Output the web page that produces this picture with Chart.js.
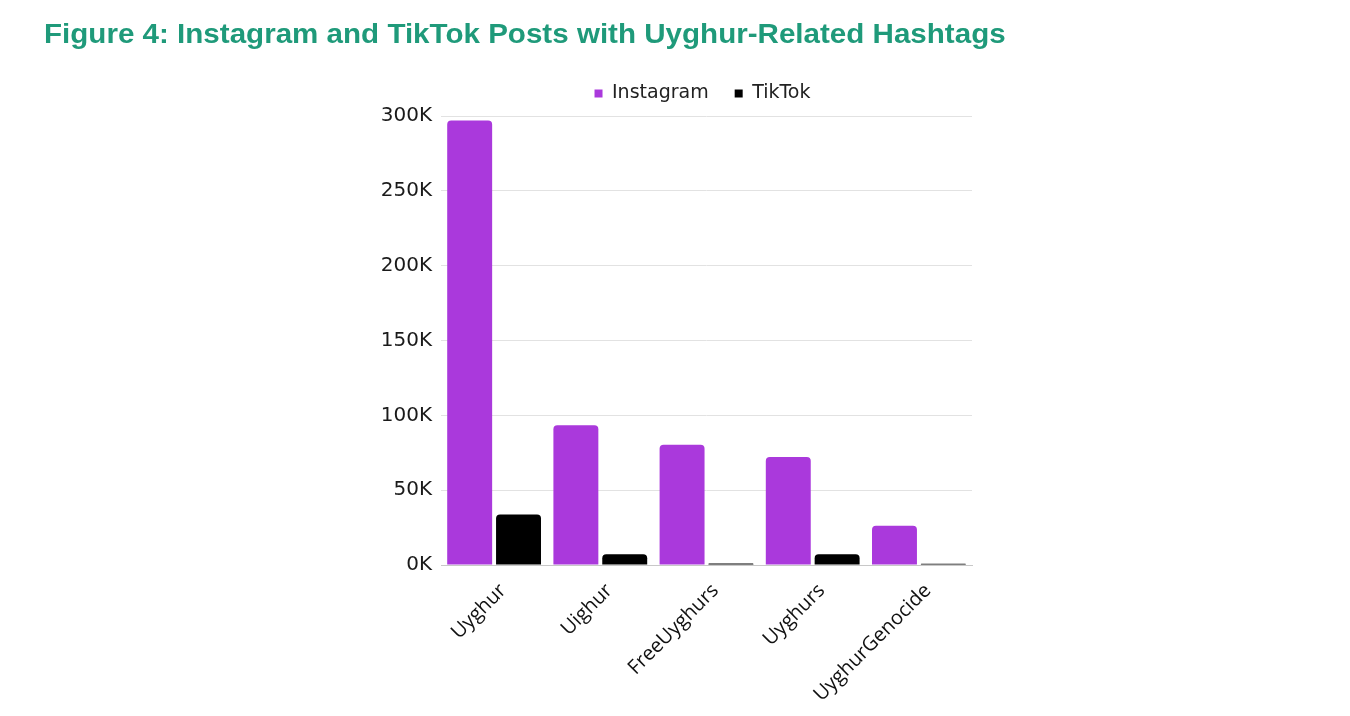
<!DOCTYPE html>
<html>
<head>
<meta charset="utf-8">
<script src="https://cdn.jsdelivr.net/npm/chart.js@4.4.0/dist/chart.umd.min.js"></script>
<style>
  body { margin: 0; background: #fff; }
  #wrap { position: relative; width: 1350px; height: 716px; }
  #title {
    position: absolute; left: 44px; top: 18px;
    font: bold 28px "Liberation Sans", Arial, sans-serif;
    color: #1f9a7a; white-space: nowrap; transform-origin: 0 0;
  }
  canvas { position: absolute; left: 0; top: 0; }
</style>
</head>
<body>
<div id="wrap">
  <canvas id="hashtagChart" width="1350" height="716"></canvas>
  <div id="title">Figure 4: Instagram and TikTok Posts with Uyghur-Related Hashtags</div>
</div>
<script>
  // data
  var hashtags = ['Uyghur', 'Uighur', 'FreeUyghurs', 'Uyghurs', 'UyghurGenocide'];
  var instagramPosts = [297000, 93300, 80400, 72200, 26200];
  var tiktokPosts = [33800, 7100, 1000, 7100, 800];
  var seriesNames = ['Instagram', 'TikTok'];
  var yTicks = [0, 50000, 100000, 150000, 200000, 250000, 300000];

  // squeeze the title to the width it has in the figure
  var title = document.getElementById('title');
  title.style.transform = 'scaleX(' + (962 / title.scrollWidth) + ')';

  // legend: fixed height and centred over the plot, not the whole box
  var legendTweak = {
    id: 'legendTweak',
    afterInit: function (chart) {
      var fit = chart.legend.fit;
      chart.legend.fit = function () {
        fit.call(this);
        this.height = 58;
      };
      var draw = chart.legend.draw;
      chart.legend.draw = function () {
        var c = this.ctx;
        c.save();
        c.translate(31, 0);
        draw.apply(this, arguments);
        c.restore();
      };
    }
  };

  var ctx = document.getElementById('hashtagChart');
  var myChart = new Chart(ctx, {
    type: 'bar',
    data: {
      labels: hashtags,
      datasets: [
        {
          label: seriesNames[0],
          data: instagramPosts,
          backgroundColor: '#aa39dc',
          borderRadius: 4,
          borderSkipped: 'bottom'
        },
        {
          label: seriesNames[1],
          data: tiktokPosts,
          backgroundColor: '#000000',
          borderRadius: 4,
          borderSkipped: 'bottom'
        }
      ]
    },
    options: {
      responsive: false,
      devicePixelRatio: 1,
      animation: false,
      datasets: { bar: { categoryPercentage: 0.92, barPercentage: 0.92 } },
      layout: { padding: { left: 371, right: 378, top: 58, bottom: 11 } },
      plugins: {
        legend: {
          position: 'top',
          labels: {
            boxWidth: 8,
            boxHeight: 8,
            padding: 26,
            color: '#222',
            font: { family: 'DejaVu Sans', size: 19 }
          }
        },
        tooltip: { enabled: false }
      },
      scales: {
        x: {
          grid: { display: false },
          border: { color: '#c8c8c8' },
          ticks: {
            minRotation: 45,
            maxRotation: 45,
            padding: 6,
            labelOffset: 9,
            color: '#111',
            font: { family: 'Open Sans', size: 20 }
          },
          afterFit: function (scale) { scale.height = 140; }
        },
        y: {
          min: 0,
          max: 300000,
          border: { display: false },
          grid: {
            drawTicks: false,
            color: function (c) { return c.tick && c.tick.value === 0 ? '#c8c8c8' : '#e2e2e2'; }
          },
          afterBuildTicks: function (scale) {
            scale.ticks = yTicks.map(function (v) { return { value: v }; });
          },
          ticks: {
            padding: 9,
            color: '#1a1a1a',
            font: { family: 'DejaVu Sans', size: 20 },
            callback: function (v) { return (v / 1000) + 'K'; }
          },
          afterFit: function (scale) { scale.width = 70; }
        }
      }
    },
    plugins: [legendTweak]
  });
</script>
</body>
</html>
